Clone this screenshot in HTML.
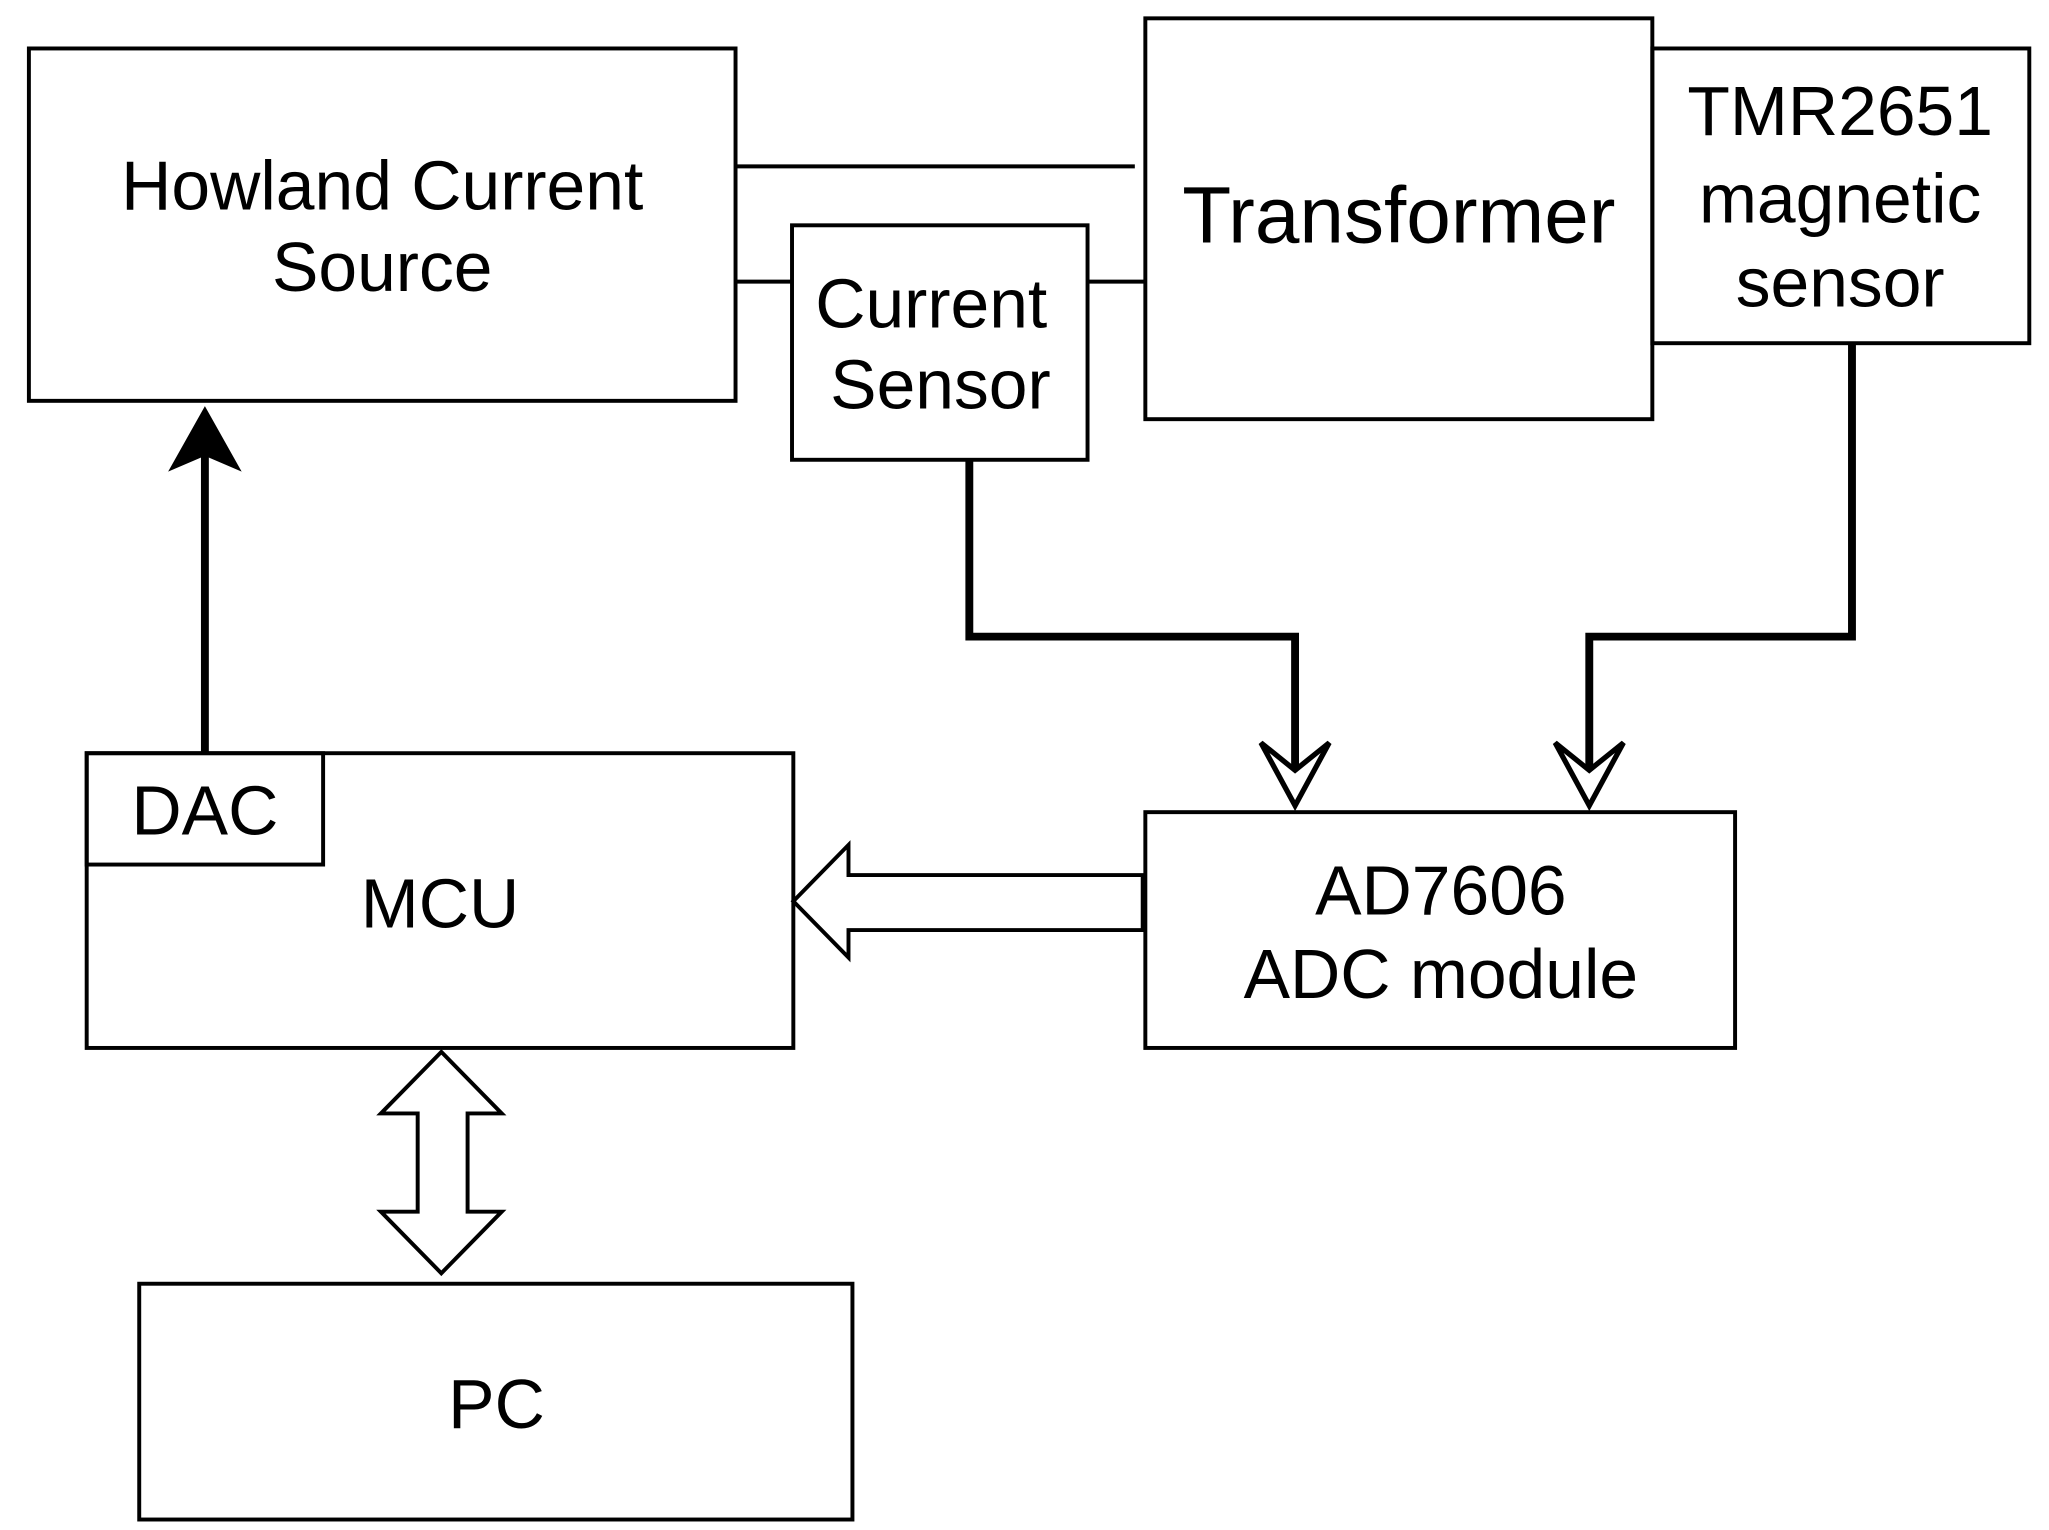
<!DOCTYPE html>
<html><head><meta charset="utf-8"><style>html,body{margin:0;padding:0;background:#fff}svg{display:block}</style></head>
<body>
<svg width="2049" height="1530" viewBox="0 0 1560 1168" preserveAspectRatio="none" xmlns="http://www.w3.org/2000/svg">
<g fill="none" stroke="#000" stroke-width="3">
<rect x="22" y="37" width="538" height="269"/>
<rect x="872" y="14" width="386" height="306"/>
<rect x="1258" y="37" width="287" height="225"/>
<rect x="603" y="172" width="225" height="179"/>
<rect x="66" y="575" width="538" height="225"/>
<rect x="66" y="575" width="180" height="85"/>
<rect x="872" y="620" width="449" height="180"/>
<rect x="106" y="980" width="543" height="180"/>
<line x1="560" y1="127" x2="864" y2="127"/>
<line x1="560" y1="215" x2="603" y2="215"/>
<line x1="828" y1="215" x2="872" y2="215"/>
</g>
<g fill="none" stroke="#000" stroke-width="6">
<line x1="156" y1="575" x2="156" y2="345"/>
<polyline points="738,351 738,486 986,486 986,605"/>
<polyline points="1410,262 1410,486 1210,486 1210,605"/>
</g>
<polygon points="156,310 184,360 156,348 128,360" fill="#000"/>
<g fill="#fff" stroke="#000" stroke-width="4" stroke-linejoin="miter">
<polygon points="960,567 986,615 1012,567 986,588"/>
<polygon points="1184,567 1210,615 1236,567 1210,588"/>
</g>
<g fill="#fff" stroke="#000" stroke-width="3">
<polygon points="870,668 646,668 646,645 604,688 646,731 646,710 870,710"/>
<polygon points="336,803 382,850 356,850 356,925 382,925 336,972 290,925 318,925 318,850 290,850"/>
</g>
<g font-family="Liberation Sans, sans-serif" font-size="53" text-anchor="middle" fill="#000">
<text x="291" y="160">Howland Current</text>
<text x="291" y="222">Source</text>
<text x="1065" y="185" font-size="61">Transformer</text>
<text x="1401" y="103">TMR2651</text>
<text x="1401" y="170">magnetic</text>
<text x="1401" y="234">sensor</text>
<text x="709" y="250">Current</text>
<text x="716" y="312">Sensor</text>
<text x="156" y="637">DAC</text>
<text x="335" y="708">MCU</text>
<text x="1097" y="698">AD7606</text>
<text x="1097" y="762">ADC module</text>
<text x="378" y="1090">PC</text>
</g>
</svg>
</body></html>
